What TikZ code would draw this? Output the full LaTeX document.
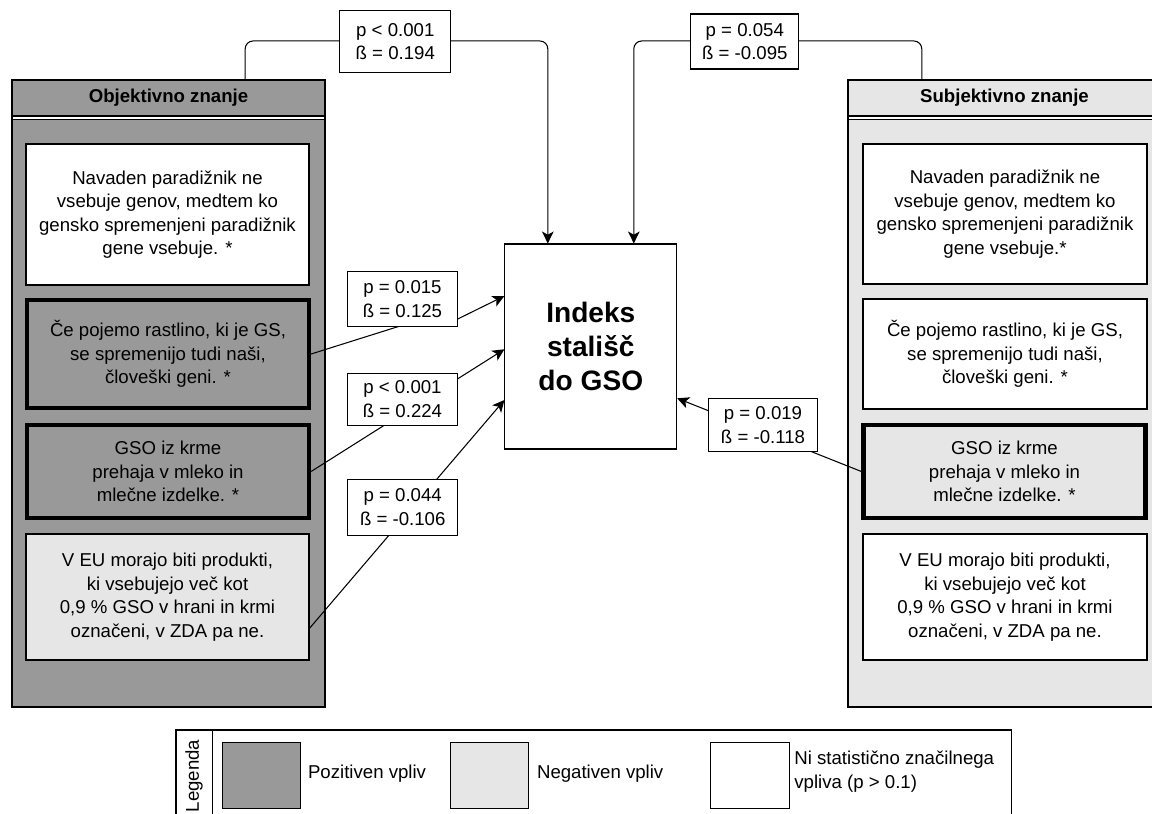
\documentclass[tikz,border=0pt]{standalone}
\usepackage{fontspec}
\setmainfont{Liberation Sans}
\usetikzlibrary{arrows.meta,calc}
\definecolor{posgray}{HTML}{999999}
\definecolor{neggray}{HTML}{E6E6E6}
\begin{document}
\begin{tikzpicture}[x=0.02cm,y=-0.02cm,
  every node/.style={font=\fontsize{10.6}{13.4}\selectfont, inner sep=0pt},
  sz/.style 2 args={minimum width={#1*0.02cm}, minimum height={#2*0.02cm}},
  plain/.style={line width=0.6pt},
  panel/.style={draw, plain},
  item/.style={draw, plain, align=center, fill=white},
  strong/.style={line width=2.4pt},
  stat/.style={draw, plain, fill=white, align=center},
  title/.style={font=\fontsize{10.6}{13.4}\selectfont\bfseries},
  conn/.style={plain, -{Stealth[length=6.8pt,width=6.6pt,inset=1.8pt]}}
]
\useasboundingbox (0,0) rectangle (1152,814);

% the two knowledge panels with their header bands
\node[panel, fill=posgray, sz={313}{627}] (objP) at (168.5,393.5) {};
\node[panel, fill=neggray, sz={313}{627}] (subP) at (1004.5,393.5) {};
\fill[white] (12.6,116) rectangle (324.4,119.5);
\fill[white] (848.6,116) rectangle (1160.4,119.5);
\draw[plain] (12,116) -- (325,116) (12,119.5) -- (325,119.5);
\draw[plain] (848,116) -- (1161,116) (848,119.5) -- (1161,119.5);
\node[title] (objT) at (168.5,98) {Objektivno znanje};
\node[title] (subT) at (1004.5,98) {Subjektivno znanje};

% statements, objective knowledge
\node[item, sz={283}{141}] (o1) at (167.5,214.5) {Navaden paradižnik ne\\vsebuje genov, medtem ko\\gensko spremenjeni paradižnik\\gene vsebuje. *};
\node[item, strong, fill=posgray, sz={282}{108}] (o2) at (168,354) {Če pojemo rastlino, ki je GS,\\se spremenijo tudi naši,\\človeški geni. *};
\node[item, strong, fill=posgray, sz={282}{93}] (o3) at (168,471.5) {GSO iz krme\\prehaja v mleko in\\mlečne izdelke. *};
\node[item, fill=neggray, sz={283}{126}] (o4) at (167.5,597) {V EU morajo biti produkti,\\ki vsebujejo več kot\\0,9 \% GSO v hrani in krmi\\označeni, v ZDA pa ne.};

% statements, subjective knowledge
\node[item, sz={284}{140}] (s1) at (1005,214) {Navaden paradižnik ne\\vsebuje genov, medtem ko\\gensko spremenjeni paradižnik\\gene vsebuje.*};
\node[item, sz={284}{110}] (s2) at (1005,354) {Če pojemo rastlino, ki je GS,\\se spremenijo tudi naši,\\človeški geni. *};
\node[item, strong, fill=neggray, sz={282}{93}] (s3) at (1004.5,471.5) {GSO iz krme\\prehaja v mleko in\\mlečne izdelke. *};
\node[item, sz={284}{126}] (s4) at (1005,597) {V EU morajo biti produkti,\\ki vsebujejo več kot\\0,9 \% GSO v hrani in krmi\\označeni, v ZDA pa ne.};

% attitude index
\node[draw, plain, fill=white, sz={171.7}{205}, align=center,
      font=\fontsize{16}{19.6}\selectfont\bfseries] (idx) at (590.8,346.5) {Indeks\\stališč\\do GSO};

% connectors
\coordinate (outL) at ($(objP.north west)+(233.7,0)$);
\coordinate (outR) at ($(subP.north west)+(74.3,0)$);
\coordinate (inL) at ($(idx.north)+(-43,0)$);
\coordinate (inR) at ($(idx.north)+(43,0)$);
\draw[conn, rounded corners=4.5pt] (outL) -- ++(0,-38.5) -| (inL);
\draw[conn, rounded corners=4.5pt] (outR) -- ++(0,-38.5) -| (inR);

\coordinate (w1) at (415,321.3);
\coordinate (w2) at (450,322.8);
\draw[conn] (o2.east) -- (w1) -- (w2) -- ($(idx.west)+(0,-50.5)$);
\draw[conn] (o3.east) -- ($(idx.west)+(0,2.8)$);
\draw[conn] ($(o4.east)+(0,31.3)$) -- ($(idx.west)+(0,53.5)$);
\draw[conn] (s3.west) -- ($(idx.east)+(0,51.8)$);

% coefficient labels
\node[stat, sz={110.7}{62}] (l1) at (395.3,41.7) {p < 0.001\\ß = 0.194};
\node[stat, sz={108.3}{55}] (l2) at (744.8,41.5) {p = 0.054\\ß = -0.095};
\node[stat, sz={109.6}{55}] (l3) at (402.5,299.2) {p = 0.015\\ß = 0.125};
\node[stat, sz={109.6}{51.7}] (l4) at (402.5,399.2) {p < 0.001\\ß = 0.224};
\node[stat, sz={110}{55.7}] (l5) at (402.7,507.2) {p = 0.044\\ß = -0.106};
\node[stat, sz={109.4}{53.4}] (l6) at (763,425) {p = 0.019\\ß = -0.118};

% legend
\draw[plain] (176,830) -- (176,730) -- (1011.7,730) -- (1011.7,830);
\draw[plain] (212.3,730) -- (212.3,830);
\node[rotate=90] (legT) at (194,776) {Legenda};
\node[draw, plain, fill=posgray, sz={77.7}{65.6}] (k1) at (261.2,775.5) {};
\node[anchor=west] (k1t) at (307.7,774) {Pozitiven vpliv};
\node[draw, plain, fill=neggray, sz={77.7}{65.6}] (k2) at (489.2,775.5) {};
\node[anchor=west] (k2t) at (536.7,774) {Negativen vpliv};
\node[draw, plain, fill=white, sz={78.5}{65.6}] (k3) at (750.2,775.5) {};
\node[anchor=west, align=left] (k3t) at (794,771.7) {Ni statistično značilnega\\vpliva (p > 0.1)};
\end{tikzpicture}
\end{document}
